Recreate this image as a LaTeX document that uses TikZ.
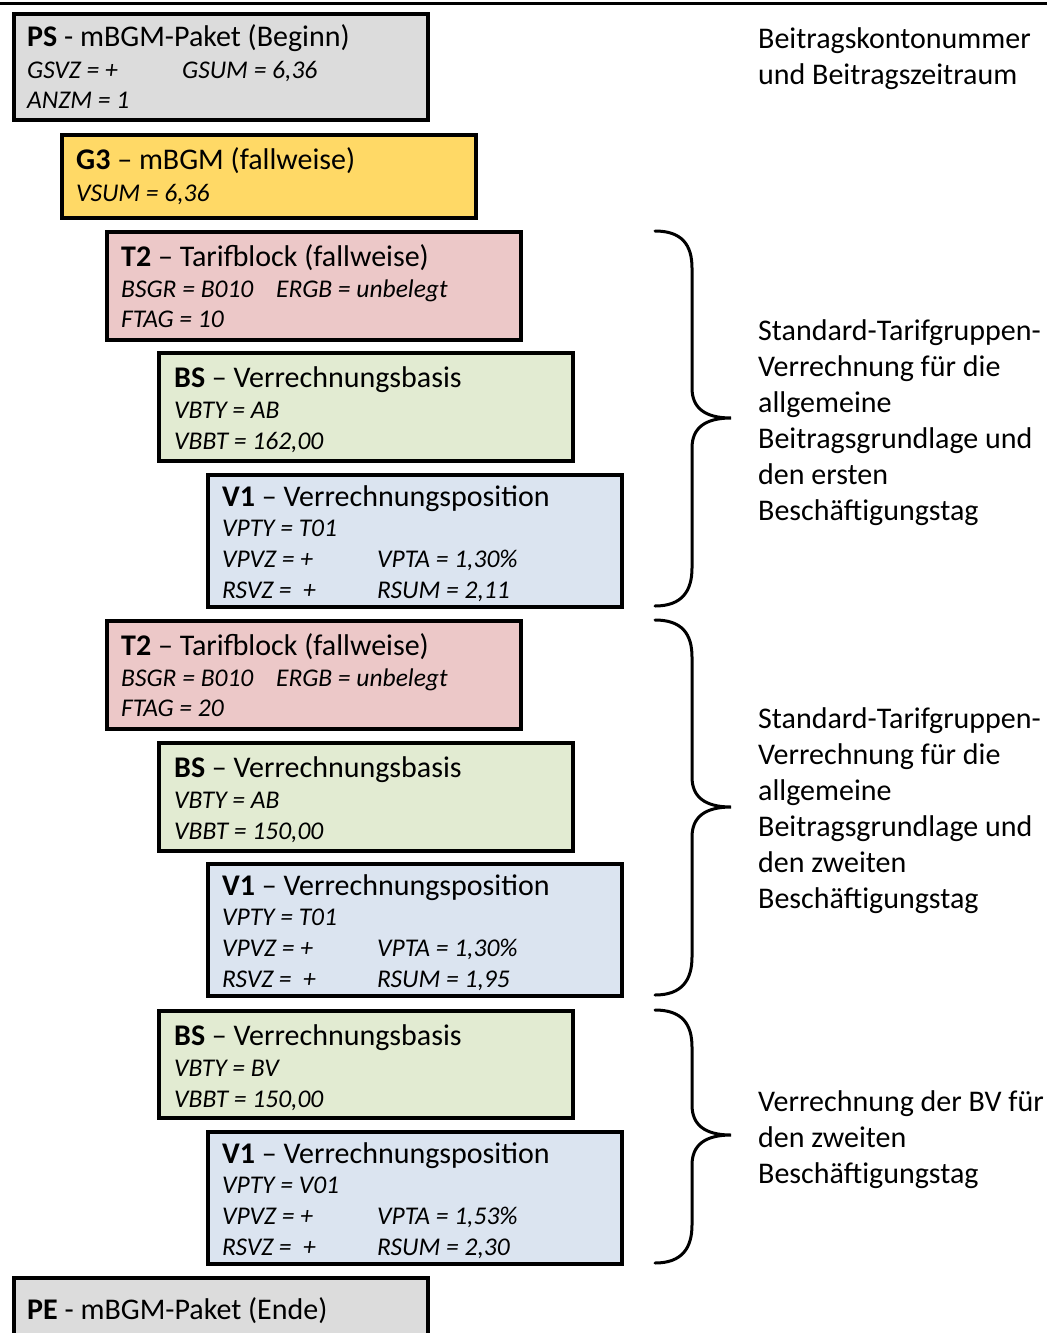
\documentclass[tikz,border=0pt]{standalone}
\usepackage{fontspec}
\setmainfont{Carlito}
\definecolor{cgray}{HTML}{DCDCDC}
\definecolor{cyellow}{HTML}{FFD966}
\definecolor{cpink}{HTML}{ECC8C8}
\definecolor{cgreen}{HTML}{E2EBD2}
\definecolor{cblue}{HTML}{DBE4F0}
\tikzset{
  box/.style={draw=black, line width=4pt, minimum width=414pt, anchor=north west, inner sep=0pt},
  ttl/.style={anchor=base west, inner sep=0pt, font=\fontsize{30}{36}\selectfont},
  att/.style={anchor=base west, inner sep=0pt, font=\fontsize{25.5}{30}\selectfont\itshape},
  side/.style={anchor=base west, inner sep=0pt, font=\fontsize{30}{36}\selectfont},
  brace/.style={line width=3pt, line cap=round}
}
\begin{document}
\begin{tikzpicture}[x=1pt,y=-1pt]
\useasboundingbox (0,0) rectangle (1047,1333);
\coordinate (rl) at (0,3.5);
\coordinate (rr) at (1047,3.5);
\draw[line width=3pt] (rl) -- (rr);

% PS
\node[box, fill=cgray, minimum height=106pt] (ps) at (12,12) {};
\node[ttl] (pst) at (27,46) {\textbf{PS} - mBGM-Paket (Beginn)};
\node[att] (psa) at (27,78) {GSVZ = +};
\node[att] (psb) at (182,78) {GSUM = 6,36};
\node[att] (psc) at (27,108) {ANZM = 1};

% G3
\node[box, fill=cyellow, minimum height=83pt] (g3) at (60,133) {};
\node[ttl] (g3t) at (76,169) {\textbf{G3} – mBGM (fallweise)};
\node[att] (g3a) at (76,201) {VSUM = 6,36};

% T2 (1)
\node[box, fill=cpink, minimum height=108pt] (t2a) at (105,230) {};
\node[ttl] (t2at) at (121,266) {\textbf{T2} – Tarifblock (fallweise)};
\node[att] (t2aa) at (121,297) {BSGR = B010};
\node[att] (t2ab) at (276,297) {ERGB = unbelegt};
\node[att] (t2ac) at (121,327) {FTAG = 10};

% BS (1)
\node[box, fill=cgreen, minimum height=108pt] (bsa) at (157,351) {};
\node[ttl] (bsat) at (174,387) {\textbf{BS} – Verrechnungsbasis};
\node[att] (bsaa) at (174,418) {VBTY = AB};
\node[att] (bsab) at (174,449) {VBBT = 162,00};

% V1 (1)
\node[box, fill=cblue, minimum height=132pt] (v1a) at (206,473) {};
\node[ttl] (v1at) at (222,506) {\textbf{V1} – Verrechnungsposition};
\node[att] (v1aa) at (222,536) {VPTY = T01};
\node[att] (v1ab) at (222,567) {VPVZ = +};
\node[att] (v1ac) at (377,567) {VPTA = 1,30\%};
\node[att] (v1ad) at (222,598) {RSVZ = ~+};
\node[att] (v1ae) at (377,598) {RSUM = 2,11};

% T2 (2)
\node[box, fill=cpink, minimum height=108pt] (t2b) at (105,619) {};
\node[ttl] (t2bt) at (121,655) {\textbf{T2} – Tarifblock (fallweise)};
\node[att] (t2ba) at (121,686) {BSGR = B010};
\node[att] (t2bb) at (276,686) {ERGB = unbelegt};
\node[att] (t2bc) at (121,716) {FTAG = 20};

% BS (2)
\node[box, fill=cgreen, minimum height=108pt] (bsb) at (157,741) {};
\node[ttl] (bsbt) at (174,777) {\textbf{BS} – Verrechnungsbasis};
\node[att] (bsba) at (174,808) {VBTY = AB};
\node[att] (bsbb) at (174,839) {VBBT = 150,00};

% V1 (2)
\node[box, fill=cblue, minimum height=132pt] (v1b) at (206,862) {};
\node[ttl] (v1bt) at (222,895) {\textbf{V1} – Verrechnungsposition};
\node[att] (v1ba) at (222,925) {VPTY = T01};
\node[att] (v1bb) at (222,956) {VPVZ = +};
\node[att] (v1bc) at (377,956) {VPTA = 1,30\%};
\node[att] (v1bd) at (222,987) {RSVZ = ~+};
\node[att] (v1be) at (377,987) {RSUM = 1,95};

% BS (3)
\node[box, fill=cgreen, minimum height=107pt] (bsc) at (157,1009) {};
\node[ttl] (bsct) at (174,1045) {\textbf{BS} – Verrechnungsbasis};
\node[att] (bsca) at (174,1076) {VBTY = BV};
\node[att] (bscb) at (174,1107) {VBBT = 150,00};

% V1 (3)
\node[box, fill=cblue, minimum height=132pt] (v1c) at (206,1130) {};
\node[ttl] (v1ct) at (222,1163) {\textbf{V1} – Verrechnungsposition};
\node[att] (v1ca) at (222,1193) {VPTY = V01};
\node[att] (v1cb) at (222,1224) {VPVZ = +};
\node[att] (v1cc) at (377,1224) {VPTA = 1,53\%};
\node[att] (v1cd) at (222,1255) {RSVZ = ~+};
\node[att] (v1ce) at (377,1255) {RSUM = 2,30};

% PE
\node[box, fill=cgray, minimum height=100pt] (pe) at (12,1276) {};
\node[ttl] (pet) at (27,1319) {\textbf{PE} - mBGM-Paket (Ende)};

% side texts
\node[side] (s1a) at (758,48) {Beitragskontonummer};
\node[side] (s1b) at (758,84) {und Beitragszeitraum};

\node[side] (s2a) at (758,340) {Standard-Tarifgruppen-};
\node[side] (s2b) at (758,376) {Verrechnung für die};
\node[side] (s2c) at (758,412) {allgemeine};
\node[side] (s2d) at (758,448) {Beitragsgrundlage und};
\node[side] (s2e) at (758,484) {den ersten};
\node[side] (s2f) at (758,520) {Beschäftigungstag};

\node[side] (s3a) at (758,728) {Standard-Tarifgruppen-};
\node[side] (s3b) at (758,764) {Verrechnung für die};
\node[side] (s3c) at (758,800) {allgemeine};
\node[side] (s3d) at (758,836) {Beitragsgrundlage und};
\node[side] (s3e) at (758,872) {den zweiten};
\node[side] (s3f) at (758,908) {Beschäftigungstag};

\node[side] (s4a) at (758,1111) {Verrechnung der BV für};
\node[side] (s4b) at (758,1147) {den zweiten};
\node[side] (s4c) at (758,1183) {Beschäftigungstag};

% braces
\draw[brace] (655,231) .. controls (682,231) and (692,245) .. (692,268) -- (692,388)
  .. controls (692,408) and (705,418) .. (731,418)
  .. controls (705,418) and (692,428) .. (692,448) -- (692,568)
  .. controls (692,591) and (682,606) .. (655,606);
\draw[brace] (655,620) .. controls (682,620) and (692,634) .. (692,657) -- (692,777)
  .. controls (692,797) and (705,807) .. (731,807)
  .. controls (705,807) and (692,817) .. (692,837) -- (692,957)
  .. controls (692,980) and (682,995) .. (655,995);
\draw[brace] (655,1010) .. controls (682,1010) and (692,1024) .. (692,1047) -- (692,1105)
  .. controls (692,1125) and (705,1135) .. (731,1135)
  .. controls (705,1135) and (692,1145) .. (692,1165) -- (692,1225)
  .. controls (692,1248) and (682,1263) .. (655,1263);
\end{tikzpicture}
\end{document}
